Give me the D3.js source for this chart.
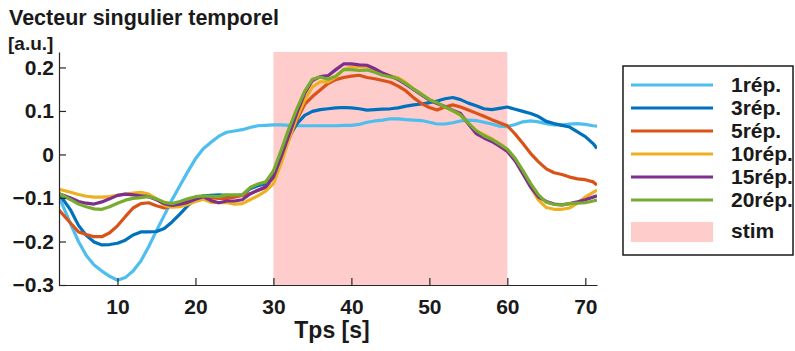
<!DOCTYPE html>
<html><head><meta charset="utf-8">
<script src="https://cdn.jsdelivr.net/npm/d3@7"></script>
<style>
html,body{margin:0;padding:0;background:#fff;}
text{font-family:"Liberation Sans",Arial,sans-serif;font-weight:bold;fill:#1a1a1a;}
</style></head>
<body><svg id="chart" width="795" height="351"></svg>
<script>
const times = [2.5,4,5,6,7,8,9,10,11,12,13,14,15,16,17,18,19,20,21,22,23,24,25,26,27,28,29,30,31,32,33,34,35,36,37,38,39,40,41,42,43,44,45,46,47,48,49,50,51,52,53,54,55,56,57,58,59,60,61,62,63,64,65,66,67,68,69,70,71,71.5];
const rep1 = [-0.097,-0.160,-0.200,-0.232,-0.254,-0.268,-0.280,-0.289,-0.283,-0.268,
  -0.245,-0.212,-0.175,-0.140,-0.104,-0.072,-0.040,-0.010,0.013,0.028,
  0.042,0.051,0.054,0.057,0.062,0.066,0.067,0.068,0.068,0.067,
  0.066,0.066,0.066,0.066,0.066,0.066,0.067,0.067,0.069,0.074,
  0.077,0.079,0.082,0.082,0.080,0.079,0.078,0.074,0.070,0.070,
  0.073,0.077,0.079,0.078,0.074,0.070,0.065,0.064,0.069,0.075,
  0.077,0.075,0.071,0.068,0.068,0.070,0.071,0.069,0.066,0.065];
const rep3 = [-0.090,-0.128,-0.163,-0.186,-0.201,-0.208,-0.207,-0.204,-0.197,-0.185,
  -0.178,-0.178,-0.177,-0.170,-0.155,-0.137,-0.118,-0.102,-0.095,-0.094,
  -0.093,-0.094,-0.096,-0.093,-0.079,-0.072,-0.068,-0.040,0.001,0.040,
  0.070,0.090,0.099,0.103,0.105,0.107,0.108,0.107,0.105,0.102,
  0.103,0.104,0.105,0.107,0.111,0.114,0.116,0.119,0.123,0.128,
  0.131,0.126,0.118,0.112,0.105,0.103,0.106,0.109,0.104,0.099,
  0.094,0.087,0.076,0.071,0.067,0.063,0.052,0.041,0.025,0.014];
const rep5 = [-0.128,-0.158,-0.178,-0.184,-0.189,-0.189,-0.180,-0.164,-0.143,-0.123,
  -0.113,-0.111,-0.118,-0.123,-0.119,-0.114,-0.108,-0.102,-0.097,-0.099,
  -0.101,-0.101,-0.098,-0.094,-0.090,-0.083,-0.076,-0.051,-0.002,0.035,
  0.080,0.115,0.133,0.148,0.163,0.172,0.177,0.180,0.182,0.177,
  0.174,0.170,0.166,0.157,0.146,0.130,0.117,0.108,0.102,0.109,
  0.114,0.109,0.102,0.095,0.088,0.080,0.073,0.066,0.047,0.025,
  0.002,-0.017,-0.033,-0.042,-0.046,-0.052,-0.056,-0.058,-0.063,-0.070];
const rep10 = [-0.080,-0.087,-0.092,-0.096,-0.098,-0.098,-0.097,-0.094,-0.091,-0.089,
  -0.087,-0.091,-0.102,-0.117,-0.121,-0.120,-0.115,-0.108,-0.103,-0.110,
  -0.111,-0.110,-0.114,-0.113,-0.104,-0.095,-0.084,-0.067,-0.020,0.035,
  0.085,0.125,0.155,0.167,0.167,0.178,0.195,0.201,0.201,0.201,
  0.195,0.186,0.181,0.176,0.165,0.150,0.139,0.126,0.117,0.109,
  0.100,0.090,0.072,0.054,0.046,0.036,0.025,0.012,-0.010,-0.040,
  -0.075,-0.105,-0.122,-0.126,-0.126,-0.123,-0.112,-0.098,-0.087,-0.082];
const rep15 = [-0.090,-0.100,-0.108,-0.112,-0.114,-0.109,-0.102,-0.094,-0.091,-0.093,
  -0.095,-0.097,-0.104,-0.113,-0.117,-0.114,-0.110,-0.103,-0.097,-0.106,
  -0.111,-0.107,-0.107,-0.104,-0.091,-0.082,-0.075,-0.052,-0.005,0.045,
  0.095,0.140,0.170,0.179,0.181,0.195,0.208,0.208,0.206,0.205,
  0.197,0.187,0.180,0.172,0.161,0.149,0.137,0.125,0.117,0.110,
  0.102,0.094,0.070,0.048,0.038,0.030,0.019,0.007,-0.015,-0.045,
  -0.075,-0.098,-0.108,-0.114,-0.116,-0.113,-0.109,-0.104,-0.098,-0.095];
const rep20 = [-0.090,-0.104,-0.114,-0.120,-0.125,-0.126,-0.120,-0.112,-0.105,-0.101,
  -0.099,-0.097,-0.102,-0.110,-0.113,-0.108,-0.102,-0.097,-0.095,-0.096,
  -0.097,-0.093,-0.093,-0.093,-0.076,-0.068,-0.063,-0.038,0.010,0.060,
  0.105,0.145,0.173,0.178,0.173,0.180,0.195,0.195,0.193,0.194,
  0.189,0.182,0.178,0.174,0.163,0.150,0.138,0.126,0.119,0.109,
  0.101,0.091,0.072,0.055,0.043,0.035,0.024,0.012,-0.009,-0.037,
  -0.067,-0.093,-0.110,-0.115,-0.116,-0.113,-0.112,-0.111,-0.107,-0.105];
const seriesNames = ["1rép.","3rép.","5rép.","10rép.","15rép.","20rép."];
const seriesColors = ["#4DBEEE","#0072BD","#D95319","#EDB120","#7E2F8E","#77AC30"];
const seriesValues = [rep1,rep3,rep5,rep10,rep15,rep20];
const stimWindow = [30,60];
const stimLabel = "stim";
const xTicks = [10,20,30,40,50,60,70];
const yTicks = [-0.3,-0.2,-0.1,0,0.1,0.2];
const xDomain = [2.5,71.5];
const yDomain = [-0.3,0.2355];
const titleText = "Vecteur singulier temporel";
const yUnit = "[a.u.]";
const xLabel = "Tps [s]";

const svg = d3.select("#chart");
const x = d3.scaleLinear().domain(xDomain).range([59,597]);
const y = d3.scaleLinear().domain(yDomain).range([285,52]);

// stim patch
svg.append("rect").attr("x",x(stimWindow[0])).attr("y",y(yDomain[1]))
  .attr("width",x(stimWindow[1])-x(stimWindow[0])).attr("height",y(yDomain[0])-y(yDomain[1]))
  .attr("fill","#FFCCCC");

// lines
const line = d3.line().x(d=>x(d[0])).y(d=>y(d[1]));
svg.append("defs").append("clipPath").attr("id","clip").append("rect")
  .attr("x",59).attr("y",52).attr("width",538).attr("height",233);
const g = svg.append("g").attr("clip-path","url(#clip)");
seriesValues.forEach((vals,i)=>{
  const pts = times.map((t,k)=>[t,vals[k]]).filter(p=>p[1]!==undefined);
  g.append("path").datum(pts).attr("d",line).attr("fill","none")
    .attr("stroke",seriesColors[i]).attr("stroke-width",3.2).attr("stroke-linejoin","round");
});

// axes
const fmt = d => d===0 ? "0" : d.toFixed(1).replace("-","\u2212");
const xa = svg.append("g").attr("transform","translate(0,285)")
  .call(d3.axisBottom(x).tickValues(xTicks).tickSizeInner(-7).tickSizeOuter(0).tickPadding(14));
const ya = svg.append("g").attr("transform","translate(59,0)")
  .call(d3.axisLeft(y).tickValues(yTicks).tickFormat(fmt).tickSizeInner(-7).tickSizeOuter(0).tickPadding(5));
[xa,ya].forEach(a=>{
  a.selectAll("path,line").attr("stroke","#262626").attr("stroke-width",1.2);
  a.selectAll("text").attr("font-size",21).attr("font-family",null).attr("fill","#1a1a1a");
});

svg.append("text").attr("x",9).attr("y",25).attr("font-size",21.5).text(titleText);
svg.append("text").attr("x",8).attr("y",49.5).attr("font-size",19).text(yUnit);
svg.append("text").attr("x",332).attr("y",338).attr("text-anchor","middle").attr("font-size",23).text(xLabel);

// legend
const lg = svg.append("g");
lg.append("rect").attr("x",623).attr("y",66).attr("width",170).attr("height",189)
  .attr("fill","#fff").attr("stroke","#1a1a1a").attr("stroke-width",1.5);
const rowY = d3.scalePoint().domain(seriesNames).range([85,200]);
seriesNames.forEach((n,i)=>{
  lg.append("line").attr("x1",631).attr("x2",713).attr("y1",rowY(n)).attr("y2",rowY(n))
    .attr("stroke",seriesColors[i]).attr("stroke-width",3.2);
  lg.append("text").attr("x",731).attr("y",rowY(n)).attr("dy","0.35em").attr("font-size",21).text(n);
});
lg.append("rect").attr("x",631).attr("y",222).attr("width",82).attr("height",20).attr("fill","#FFCCCC");
lg.append("text").attr("x",731).attr("y",231).attr("dy","0.35em").attr("font-size",21).text(stimLabel);
</script></body></html>
